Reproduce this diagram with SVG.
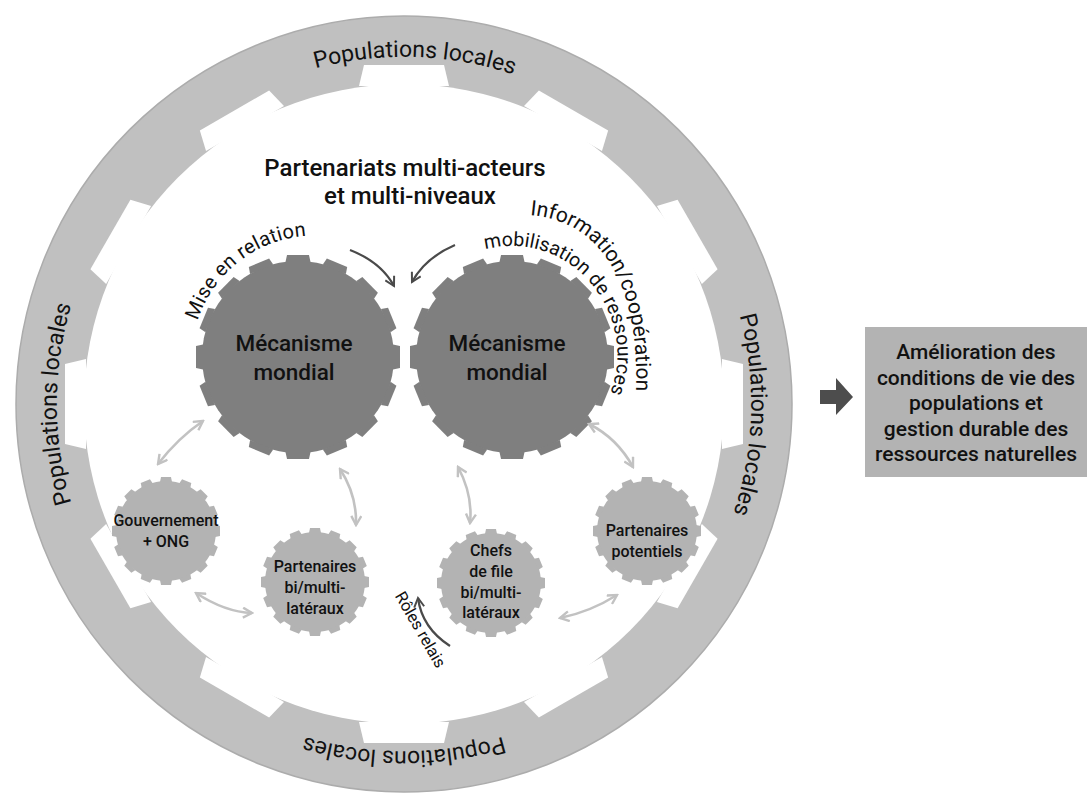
<svg xmlns="http://www.w3.org/2000/svg" xmlns:xlink="http://www.w3.org/1999/xlink" width="1088" height="793" viewBox="0 0 1088 793">
<style>
  text { font-family: Roboto, "Noto Sans", "Liberation Sans", sans-serif; fill: #111; }
  .ring { font-size: 23px; }
  .title { font-size: 24px; font-weight: 500; text-anchor: middle; }
  .mec { font-size: 22.5px; font-weight: 500; text-anchor: middle; }
  .sm { font-size: 16px; font-weight: 500; text-anchor: middle; }
  .box { font-size: 21px; font-weight: 500; text-anchor: middle; }
  .cv { font-size: 20px; }
  .cvi { font-size: 19.5px; }
  .cvo { font-size: 21px; }
  .bigfill { fill: #7f7f7f; }
  .smfill { fill: #b3b3b3; }
  .dark { fill: none; stroke: #4a4a4a; stroke-width: 2.2; }
  .light { fill: none; stroke: #c2c2c2; stroke-width: 2.6; marker-start: url(#lh); marker-end: url(#lh); }
</style>
<defs>
  <polygon id="rt" points="-40,-339 40,-339 45,-318 -45,-318" fill="#ffffff"/>
  <polygon id="bt" points="-11,-102 11,-102 12.5,-95 -12.5,-95" fill="#7f7f7f"/>
  <polygon id="st" points="-5,-54 5,-54 6,-49 -6,-49" fill="#b3b3b3"/>
  <marker id="dh" viewBox="0 0 12 12" refX="10" refY="6" markerWidth="12" markerHeight="12" markerUnits="userSpaceOnUse" orient="auto">
    <path d="M1,1 L10,6 L1,11" fill="none" stroke="#4a4a4a" stroke-width="2"/>
  </marker>
  <marker id="lh" viewBox="0 0 12 12" refX="10" refY="6" markerWidth="12" markerHeight="12" markerUnits="userSpaceOnUse" orient="auto-start-reverse">
    <path d="M1,1 L10,6 L1,11" fill="none" stroke="#c2c2c2" stroke-width="2.4"/>
  </marker>
  <path id="ringPath" d="M158.6,158.6 A347,347 0 1 1 649.4,649.4 A347,347 0 1 1 158.6,158.6"/>
  <path id="misePath" d="M194.2,333.3 A123.5,123.5 0 0 1 319.3,235.6"/>
  <path id="infoPath" d="M530,215 C610,222 650,300 632,440"/>
  <path id="mobPath" d="M485.1,249.3 C585.6,224.2 658.3,344.5 591.7,423.9"/>
</defs>

<g id="outer-ring">
  <circle cx="404" cy="404" r="388" fill="#c0c0c0" stroke="#acacac" stroke-width="1.5"/>
  <g transform="translate(404,404)">
    <circle r="320" fill="#ffffff"/>
    <use href="#rt"/>
    <use href="#rt" transform="rotate(30)"/>
    <use href="#rt" transform="rotate(60)"/>
    <use href="#rt" transform="rotate(90)"/>
    <use href="#rt" transform="rotate(120)"/>
    <use href="#rt" transform="rotate(150)"/>
    <use href="#rt" transform="rotate(180)"/>
    <use href="#rt" transform="rotate(210)"/>
    <use href="#rt" transform="rotate(240)"/>
    <use href="#rt" transform="rotate(270)"/>
    <use href="#rt" transform="rotate(300)"/>
    <use href="#rt" transform="rotate(330)"/>
  </g>
  <text class="ring" text-anchor="middle"><textPath href="#ringPath" startOffset="13%">Populations locales</textPath></text>
  <text class="ring" text-anchor="middle"><textPath href="#ringPath" startOffset="38%">Populations locales</textPath></text>
  <text class="ring" text-anchor="middle"><textPath href="#ringPath" startOffset="62.5%">Populations locales</textPath></text>
  <text class="ring" text-anchor="middle"><textPath href="#ringPath" startOffset="87.5%">Populations locales</textPath></text>
</g>

<g id="title">
  <text class="title" x="405" y="176">Partenariats multi-acteurs</text>
  <text class="title" x="410" y="204">et multi-niveaux</text>
</g>

<g id="gear-left" transform="translate(298,357)">
  <circle r="96" class="bigfill"/>
  <use href="#bt"/>
  <use href="#bt" transform="rotate(22.5)"/>
  <use href="#bt" transform="rotate(45)"/>
  <use href="#bt" transform="rotate(67.5)"/>
  <use href="#bt" transform="rotate(90)"/>
  <use href="#bt" transform="rotate(112.5)"/>
  <use href="#bt" transform="rotate(135)"/>
  <use href="#bt" transform="rotate(157.5)"/>
  <use href="#bt" transform="rotate(180)"/>
  <use href="#bt" transform="rotate(202.5)"/>
  <use href="#bt" transform="rotate(225)"/>
  <use href="#bt" transform="rotate(247.5)"/>
  <use href="#bt" transform="rotate(270)"/>
  <use href="#bt" transform="rotate(292.5)"/>
  <use href="#bt" transform="rotate(315)"/>
  <use href="#bt" transform="rotate(337.5)"/>
  <text class="mec" x="-4" y="-6">Mécanisme</text>
  <text class="mec" x="-4" y="23">mondial</text>
</g>

<g id="gear-right" transform="translate(512,357)">
  <circle r="96" class="bigfill"/>
  <use href="#bt"/>
  <use href="#bt" transform="rotate(22.5)"/>
  <use href="#bt" transform="rotate(45)"/>
  <use href="#bt" transform="rotate(67.5)"/>
  <use href="#bt" transform="rotate(90)"/>
  <use href="#bt" transform="rotate(112.5)"/>
  <use href="#bt" transform="rotate(135)"/>
  <use href="#bt" transform="rotate(157.5)"/>
  <use href="#bt" transform="rotate(180)"/>
  <use href="#bt" transform="rotate(202.5)"/>
  <use href="#bt" transform="rotate(225)"/>
  <use href="#bt" transform="rotate(247.5)"/>
  <use href="#bt" transform="rotate(270)"/>
  <use href="#bt" transform="rotate(292.5)"/>
  <use href="#bt" transform="rotate(315)"/>
  <use href="#bt" transform="rotate(337.5)"/>
  <text class="mec" x="-5" y="-6">Mécanisme</text>
  <text class="mec" x="-5" y="23">mondial</text>
</g>

<g id="gear-gouv" transform="translate(166,531)">
  <circle r="50" class="smfill"/>
  <use href="#st"/>
  <use href="#st" transform="rotate(22.5)"/>
  <use href="#st" transform="rotate(45)"/>
  <use href="#st" transform="rotate(67.5)"/>
  <use href="#st" transform="rotate(90)"/>
  <use href="#st" transform="rotate(112.5)"/>
  <use href="#st" transform="rotate(135)"/>
  <use href="#st" transform="rotate(157.5)"/>
  <use href="#st" transform="rotate(180)"/>
  <use href="#st" transform="rotate(202.5)"/>
  <use href="#st" transform="rotate(225)"/>
  <use href="#st" transform="rotate(247.5)"/>
  <use href="#st" transform="rotate(270)"/>
  <use href="#st" transform="rotate(292.5)"/>
  <use href="#st" transform="rotate(315)"/>
  <use href="#st" transform="rotate(337.5)"/>
  <text class="sm" x="0" y="-5">Gouvernement</text>
  <text class="sm" x="0" y="16">+ ONG</text>
</g>

<g id="gear-partbi" transform="translate(315,582)">
  <circle r="50" class="smfill"/>
  <use href="#st"/>
  <use href="#st" transform="rotate(22.5)"/>
  <use href="#st" transform="rotate(45)"/>
  <use href="#st" transform="rotate(67.5)"/>
  <use href="#st" transform="rotate(90)"/>
  <use href="#st" transform="rotate(112.5)"/>
  <use href="#st" transform="rotate(135)"/>
  <use href="#st" transform="rotate(157.5)"/>
  <use href="#st" transform="rotate(180)"/>
  <use href="#st" transform="rotate(202.5)"/>
  <use href="#st" transform="rotate(225)"/>
  <use href="#st" transform="rotate(247.5)"/>
  <use href="#st" transform="rotate(270)"/>
  <use href="#st" transform="rotate(292.5)"/>
  <use href="#st" transform="rotate(315)"/>
  <use href="#st" transform="rotate(337.5)"/>
  <text class="sm" x="0" y="-10">Partenaires</text>
  <text class="sm" x="0" y="11">bi/multi-</text>
  <text class="sm" x="0" y="32">latéraux</text>
</g>

<g id="gear-chefs" transform="translate(491,583)">
  <circle r="50" class="smfill"/>
  <use href="#st"/>
  <use href="#st" transform="rotate(22.5)"/>
  <use href="#st" transform="rotate(45)"/>
  <use href="#st" transform="rotate(67.5)"/>
  <use href="#st" transform="rotate(90)"/>
  <use href="#st" transform="rotate(112.5)"/>
  <use href="#st" transform="rotate(135)"/>
  <use href="#st" transform="rotate(157.5)"/>
  <use href="#st" transform="rotate(180)"/>
  <use href="#st" transform="rotate(202.5)"/>
  <use href="#st" transform="rotate(225)"/>
  <use href="#st" transform="rotate(247.5)"/>
  <use href="#st" transform="rotate(270)"/>
  <use href="#st" transform="rotate(292.5)"/>
  <use href="#st" transform="rotate(315)"/>
  <use href="#st" transform="rotate(337.5)"/>
  <text class="sm" x="0" y="-27">Chefs</text>
  <text class="sm" x="0" y="-6">de file</text>
  <text class="sm" x="0" y="15">bi/multi-</text>
  <text class="sm" x="0" y="35">latéraux</text>
</g>

<g id="gear-potentiels" transform="translate(647,531)">
  <circle r="50" class="smfill"/>
  <use href="#st"/>
  <use href="#st" transform="rotate(22.5)"/>
  <use href="#st" transform="rotate(45)"/>
  <use href="#st" transform="rotate(67.5)"/>
  <use href="#st" transform="rotate(90)"/>
  <use href="#st" transform="rotate(112.5)"/>
  <use href="#st" transform="rotate(135)"/>
  <use href="#st" transform="rotate(157.5)"/>
  <use href="#st" transform="rotate(180)"/>
  <use href="#st" transform="rotate(202.5)"/>
  <use href="#st" transform="rotate(225)"/>
  <use href="#st" transform="rotate(247.5)"/>
  <use href="#st" transform="rotate(270)"/>
  <use href="#st" transform="rotate(292.5)"/>
  <use href="#st" transform="rotate(315)"/>
  <use href="#st" transform="rotate(337.5)"/>
  <text class="sm" x="0" y="5">Partenaires</text>
  <text class="sm" x="0" y="26">potentiels</text>
</g>

<g id="curved-labels">
  <text class="cv" text-anchor="middle" letter-spacing="0.3"><textPath href="#misePath" startOffset="50%">Mise en relation</textPath></text>
  <text class="cvo"><textPath href="#infoPath">Information/coopération</textPath></text>
  <text class="cvi"><textPath href="#mobPath">mobilisation de ressources</textPath></text>
  <text font-size="16.5" fill="#222" text-anchor="middle" transform="translate(420,630) rotate(60)" y="5">Rôles relais</text>
</g>

<g id="connectors">
  <path class="dark" d="M350,250 Q381,262 394,286" marker-end="url(#dh)"/>
  <path class="dark" d="M455,245 Q425,258 412,282" marker-end="url(#dh)"/>
  <path class="dark" d="M450,646 Q422,628 418,598" marker-end="url(#dh)"/>
  <path class="light" d="M203,421 Q178,438 158,464"/>
  <path class="light" d="M340,469 Q357,495 356,525"/>
  <path class="light" d="M196,593 Q225,612 252,613"/>
  <path class="light" d="M458,467 Q473,495 470,523"/>
  <path class="light" d="M589,424 Q617,438 633,467"/>
  <path class="light" d="M560,618 Q590,612 617,595"/>
  <polygon points="820,390 836,390 836,378 853,397 836,415 836,404 820,404" fill="#4d4d4d"/>
</g>

<g id="result-box">
  <rect x="865" y="327" width="222" height="150" fill="#b3b3b3"/>
  <text class="box" x="976" y="359">Amélioration des</text>
  <text class="box" x="976" y="385">conditions de vie des</text>
  <text class="box" x="976" y="410">populations et</text>
  <text class="box" x="976" y="436">gestion durable des</text>
  <text class="box" x="976" y="461">ressources naturelles</text>
</g>
</svg>
